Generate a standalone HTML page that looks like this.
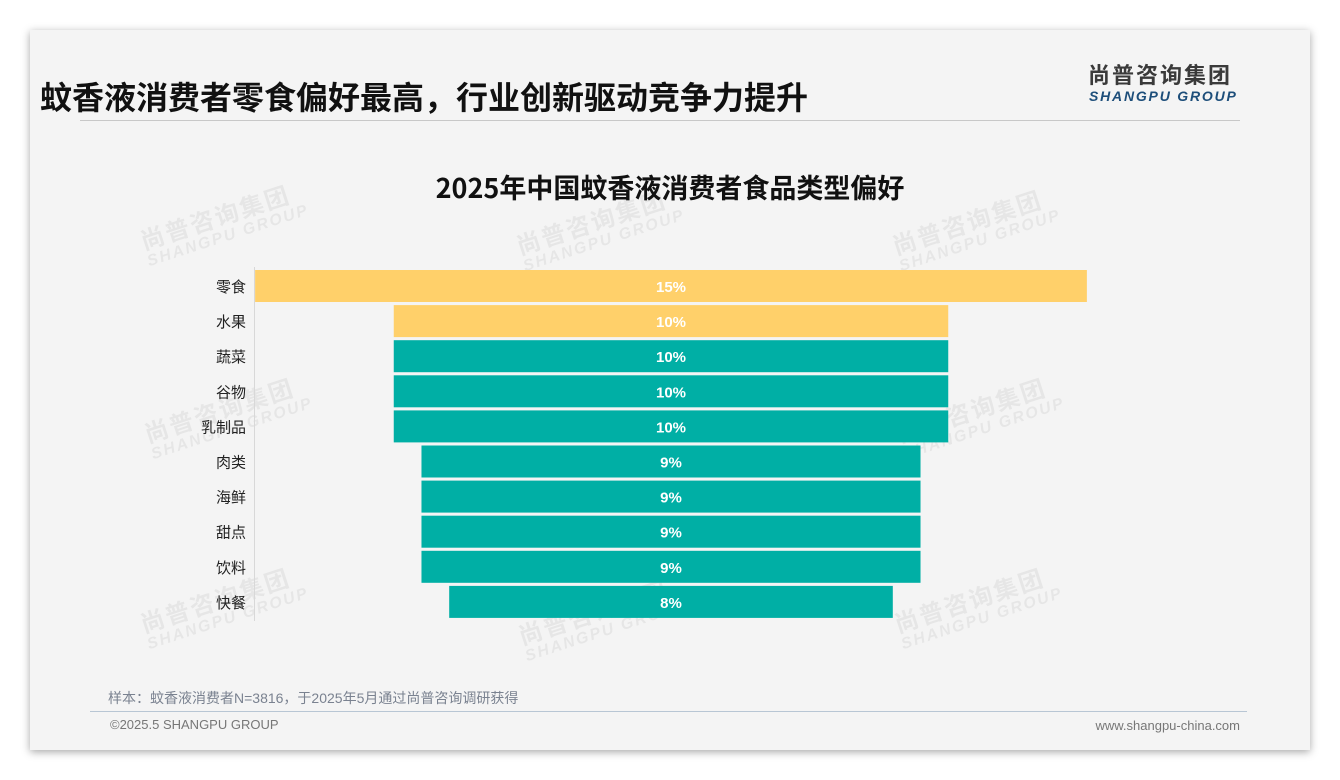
<!DOCTYPE html>
<html><head><meta charset="utf-8">
<style>
body{margin:0;width:1340px;height:780px;background:#fff;position:relative;overflow:hidden;font-family:"Liberation Sans","Noto Sans CJK SC",sans-serif}
#card{position:absolute;left:30px;top:30px;width:1280px;height:720px;background:#f4f4f4;box-shadow:0 2px 8px rgba(0,0,0,.35)}
.abs{position:absolute}
.wm{position:absolute;color:rgba(0,0,0,.055);transform:rotate(-18deg);font-weight:bold;line-height:1}
.wm .a{font-size:24px;letter-spacing:2px}
.wm .b{font-size:16px;letter-spacing:2px;font-style:italic}
</style></head><body>
<div id="card">
<div class="abs" style="left:10px;top:43px;font-size:32px;font-weight:bold;color:#111;font-family:'Noto Sans CJK SC',sans-serif;white-space:nowrap">蚊香液消费者零食偏好最高，行业创新驱动竞争力提升</div>
<div class="abs" style="left:50px;top:90px;width:1160px;height:1px;background:#c8c8c8"></div>
<div class="abs" style="left:1058px;top:29px;font-size:22px;line-height:30px;font-weight:bold;color:#3a3a3a;letter-spacing:2px;font-family:'Noto Sans CJK SC',sans-serif">尚普咨询集团</div>
<div class="abs" style="left:1059px;top:58px;font-size:14px;font-weight:bold;font-style:italic;color:#1d4e7a;letter-spacing:1.8px">SHANGPU GROUP</div>
<div class="abs" style="left:0;width:1280px;text-align:center;top:137px;font-size:27px;font-weight:bold;color:#111;font-family:'Noto Sans CJK SC',sans-serif">2025年中国蚊香液消费者食品类型偏好</div>
<div class="abs" style="left:78px;top:658px;font-size:14px;color:#7a8290">样本：蚊香液消费者N=3816，于2025年5月通过尚普咨询调研获得</div>
<div class="abs" style="left:60px;top:681px;width:1157px;height:1px;background:#b8c6d4"></div>
<div class="abs" style="left:80px;top:687px;font-size:13px;color:#777">©2025.5 SHANGPU GROUP</div>
<div class="abs" style="right:70px;top:688px;font-size:13px;color:#777">www.shangpu-china.com</div>
</div>
<div id="wms"></div>
<svg id="chart" class="abs" style="left:0;top:0" width="1340" height="780"></svg>
<script>
const categories=["零食","水果","蔬菜","谷物","乳制品","肉类","海鲜","甜点","饮料","快餐"];
const values=[15,10,10,10,10,9,9,9,9,8];
const highlight=[1,1,0,0,0,0,0,0,0,0];
const wmPos=[[140,205],[516,210],[892,210],[144,398],[896,398],[140,588],[518,600],[894,588]];
const wms=document.getElementById('wms');
wmPos.forEach(p=>{const d=document.createElement('div');d.className='wm';d.style.left=p[0]+'px';d.style.top=p[1]+'px';


d.innerHTML='<div class="a">尚普咨询集团</div><div class="b">SHANGPU GROUP</div>';wms.appendChild(d);});
const svg=document.getElementById('chart');const NS='http://www.w3.org/2000/svg';
const cx=671,scale=55.45,y0=270,pitch=35.1,bh=32;
const xs=v=>v*scale;const ys=i=>y0+i*pitch;
const ax=document.createElementNS(NS,'line');ax.setAttribute('x1',254.5);ax.setAttribute('x2',254.5);ax.setAttribute('y1',267);ax.setAttribute('y2',621);ax.setAttribute('stroke','#d8d8d8');


svg.appendChild(ax);
categories.forEach((c,i)=>{const w=xs(values[i]);
const r=document.createElementNS(NS,'rect');r.setAttribute('x',cx-w/2);r.setAttribute('y',ys(i));r.setAttribute('width',w);r.setAttribute('height',bh);r.setAttribute('fill',highlight[i]?'#FFD06A':'#00AFA5');


svg.appendChild(r);
const t=document.createElementNS(NS,'text');t.setAttribute('x',cx);t.setAttribute('y',ys(i)+bh/2+6);t.setAttribute('text-anchor','middle');t.setAttribute('fill','#fff');t.setAttribute('font-size','15');t.setAttribute('font-weight','bold');t.setAttribute('font-family','Liberation Sans, sans-serif');t.textContent=values[i]+'%';


svg.appendChild(t);
const l=document.createElementNS(NS,'text');l.setAttribute('x',246);l.setAttribute('y',ys(i)+bh/2+6);l.setAttribute('text-anchor','end');l.setAttribute('fill','#222');l.setAttribute('font-size','15');l.setAttribute('font-family','Liberation Sans, Noto Sans CJK SC, sans-serif');l.textContent=c;


svg.appendChild(l);
});
</script>
</body></html>
